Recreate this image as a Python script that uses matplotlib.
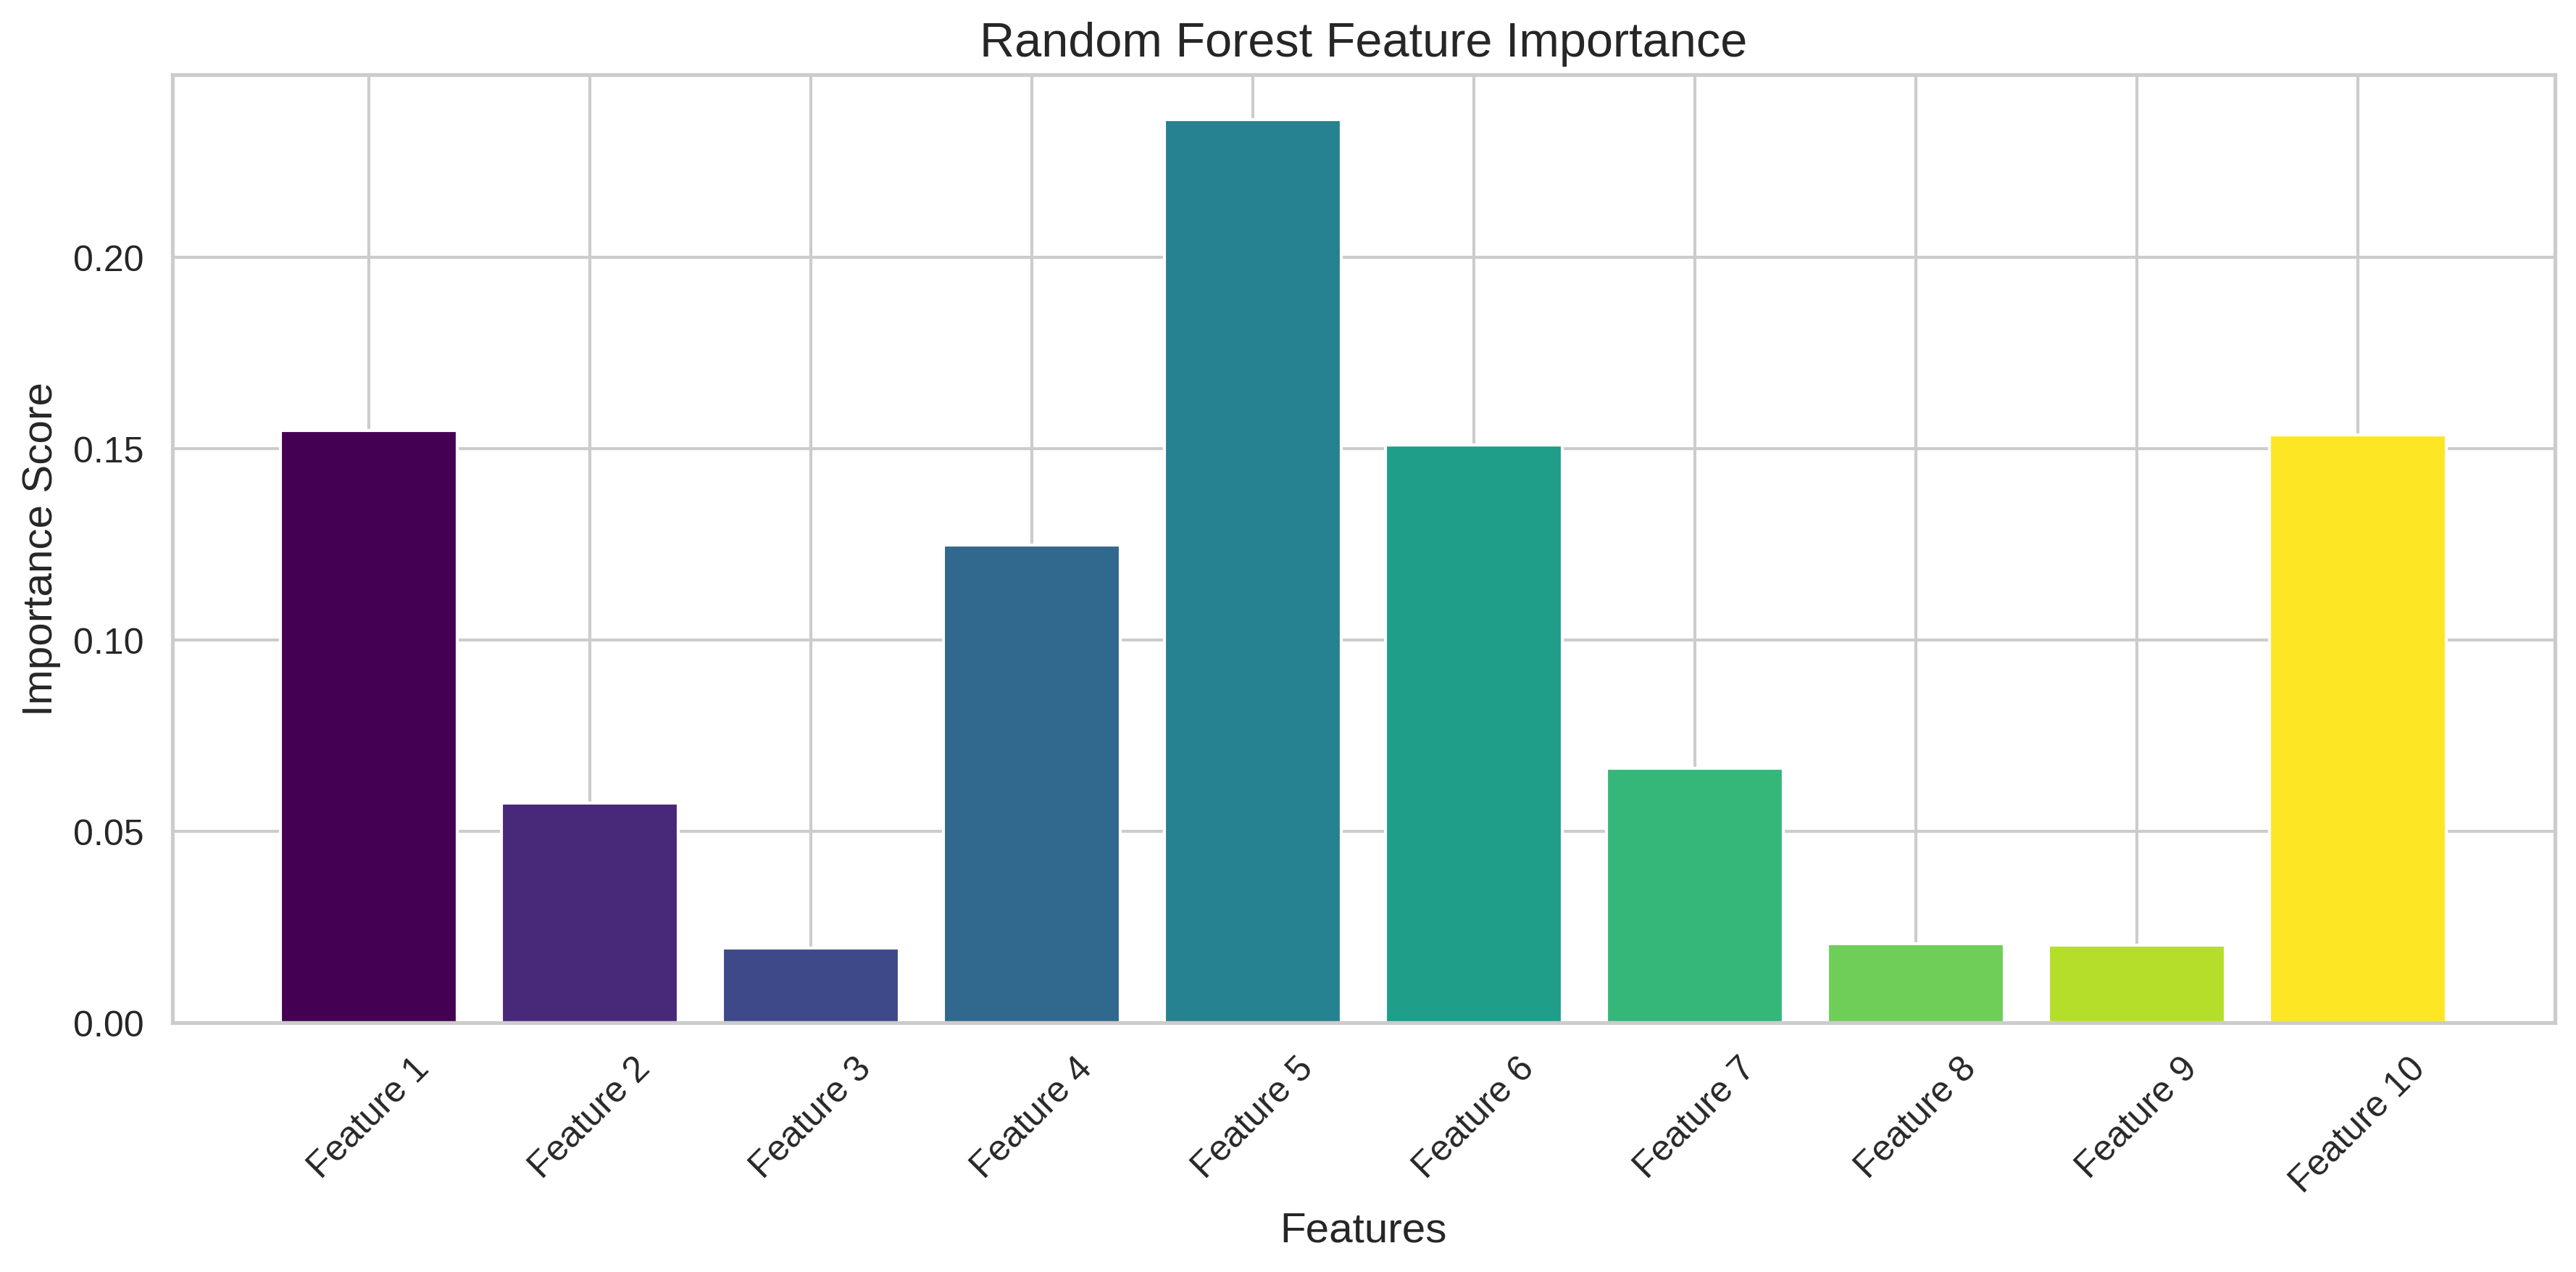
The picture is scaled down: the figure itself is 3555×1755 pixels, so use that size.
import numpy as np
import matplotlib
matplotlib.use("Agg")
import matplotlib.pyplot as plt
import seaborn as sns

features = [f"Feature {i}" for i in range(1, 11)]
importance = [0.1549, 0.0575, 0.0195, 0.1249, 0.2361, 0.1511, 0.0665, 0.0206, 0.0203, 0.1536]

sns.set_theme(style="whitegrid")
plt.rcParams['font.family'] = ['Liberation Sans', 'DejaVu Sans']

colors = plt.cm.viridis(np.linspace(0, 1, len(features)))

fig, ax = plt.subplots(figsize=(12, 6))
ax.bar(features, importance, color=colors)
ax.set_title("Random Forest Feature Importance", fontsize=16)
ax.set_xlabel("Features", fontsize=14)
ax.set_ylabel("Importance Score", fontsize=14)
plt.xticks(rotation=45, fontsize=12)
plt.yticks(fontsize=12)
plt.tight_layout()
plt.savefig("out.png", dpi=300, bbox_inches="tight")
